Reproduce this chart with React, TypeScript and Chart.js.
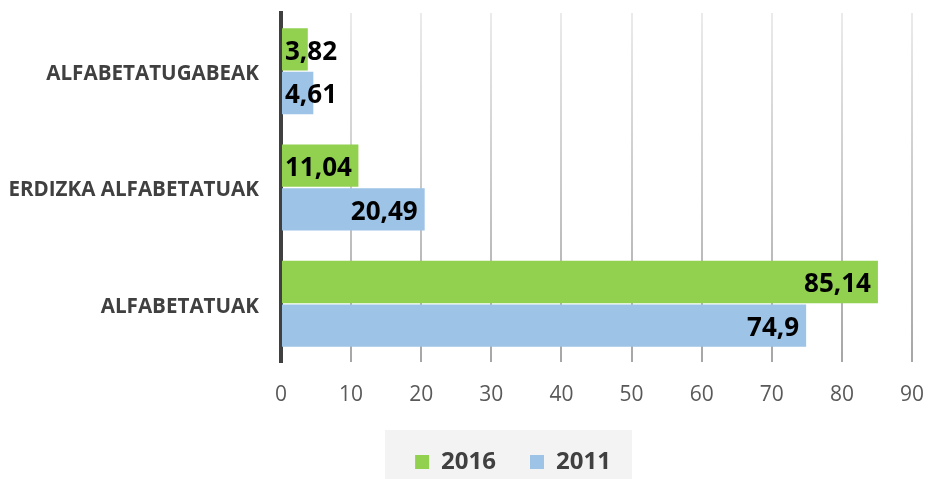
import React, { useEffect, useRef } from "react";
import { Chart, registerables } from "chart.js";

Chart.register(...registerables);

const categories = ["ALFABETATUGABEAK", "ERDIZKA ALFABETATUAK", "ALFABETATUAK"];
const seriesNames = ["2016", "2011"];
const values2016 = [3.82, 11.04, 85.14];
const values2011 = [4.61, 20.49, 74.9];
const xMin = 0;
const xMax = 90;
const xStep = 10;

const GREEN = "#92d050";
const BLUE = "#9dc3e6";
const FONT = "'Open Sans', 'DejaVu Sans', sans-serif";

const fmt = (v: number) => String(v).replace(".", ",");

const dataLabelPlugin = {
  id: "dataLabels",
  afterDatasetsDraw(chart: any) {
    const ctx = chart.ctx;
    ctx.save();
    ctx.font = `bold 26px ${FONT}`;
    ctx.fillStyle = "#000000";
    ctx.textBaseline = "middle";
    chart.data.datasets.forEach((ds: any, di: number) => {
      const meta = chart.getDatasetMeta(di);
      meta.data.forEach((el: any, i: number) => {
        const txt = fmt(ds.data[i]);
        const w = ctx.measureText(txt).width;
        const end = el.x - 7;
        const start = el.base + 3;
        if (end - w < start) {
          ctx.textAlign = "left";
          ctx.fillText(txt, start, el.y + 3);
        } else {
          ctx.textAlign = "right";
          ctx.fillText(txt, end, el.y + 3);
        }
      });
    });
    ctx.restore();
  },
};

const legendPlacePlugin = {
  id: "legendPlace",
  afterLayout(chart: any) {
    const lg = chart.legend;
    if (!lg) return;
    const dx = 513 - (lg.left + lg.right) / 2;
    const dy = 462 - (lg.top + 34 + 12);
    lg.left += dx;
    lg.right += dx;
    lg.top += dy;
    lg.bottom += dy;
  },
  beforeDraw(chart: any) {
    const lg = chart.legend;
    if (!lg) return;
    const c = (lg.left + lg.right) / 2;
    const ctx = chart.ctx;
    ctx.save();
    ctx.fillStyle = "#f3f3f3";
    ctx.fillRect(c - 128, 430, 247, chart.height - 430);
    ctx.restore();
  },
};

export default function App() {
  const ref = useRef<HTMLCanvasElement | null>(null);

  useEffect(() => {
    if (!ref.current) return;
    const chart = new Chart(ref.current, {
      type: "bar",
      data: {
        labels: categories,
        datasets: [
          {
            label: seriesNames[0],
            data: values2016,
            backgroundColor: GREEN,
            borderWidth: 0,
            categoryPercentage: 0.75,
            barPercentage: 0.97,
          },
          {
            label: seriesNames[1],
            data: values2011,
            backgroundColor: BLUE,
            borderWidth: 0,
            categoryPercentage: 0.75,
            barPercentage: 0.97,
          },
        ],
      },
      options: {
        indexAxis: "y",
        animation: false,
        responsive: true,
        maintainAspectRatio: false,
        layout: { padding: { top: 13, right: 16, left: 0, bottom: 0 } },
        plugins: {
          legend: {
            position: "bottom",
            labels: {
              boxWidth: 14,
              boxHeight: 14,
              padding: 34,
              color: "#404040",
              font: { family: FONT, size: 24, weight: "bold" },
            },
          },
          tooltip: { enabled: false },
        },
        scales: {
          x: {
            min: xMin,
            max: xMax,
            ticks: {
              stepSize: xStep,
              padding: 20,
              color: "#595959",
              font: { family: FONT, size: 21 },
            },
            grid: {
              drawTicks: false,
              lineWidth: 2,
              color: (c: any) => {
                const area = c.chart.chartArea;
                if (!area) return "#d0d0d0";
                const g = c.chart.ctx.createLinearGradient(0, area.top, 0, area.bottom);
                g.addColorStop(0, "#ebebeb");
                g.addColorStop(1, "#a6a6a6");
                return g;
              },
            },
            border: { display: false },
            afterFit: (scale: any) => {
              const lh = scale.chart.legend ? scale.chart.legend.height : 100;
              scale.height = 479 - 362 - lh;
              scale.paddingLeft = 0;
              scale.paddingRight = 0;
            },
          },
          y: {
            ticks: {
              padding: 22,
              labelOffset: 3,
              color: "#404040",
              font: { family: FONT, size: 20.6, weight: "bold" },
            },
            grid: { display: false, drawTicks: false },
            border: { display: true, color: "#404040", width: 4 },
            afterFit: (scale: any) => {
              scale.width = 281;
              scale.paddingTop = 0;
              scale.paddingBottom = 0;
            },
          },
        },
      },
      plugins: [legendPlacePlugin, dataLabelPlugin],
    });
    return () => chart.destroy();
  }, []);

  return (
    <div style={{ position: "absolute", left: 0, top: 0, width: 928, height: 479 }}>
      <canvas ref={ref} />
    </div>
  );
}
